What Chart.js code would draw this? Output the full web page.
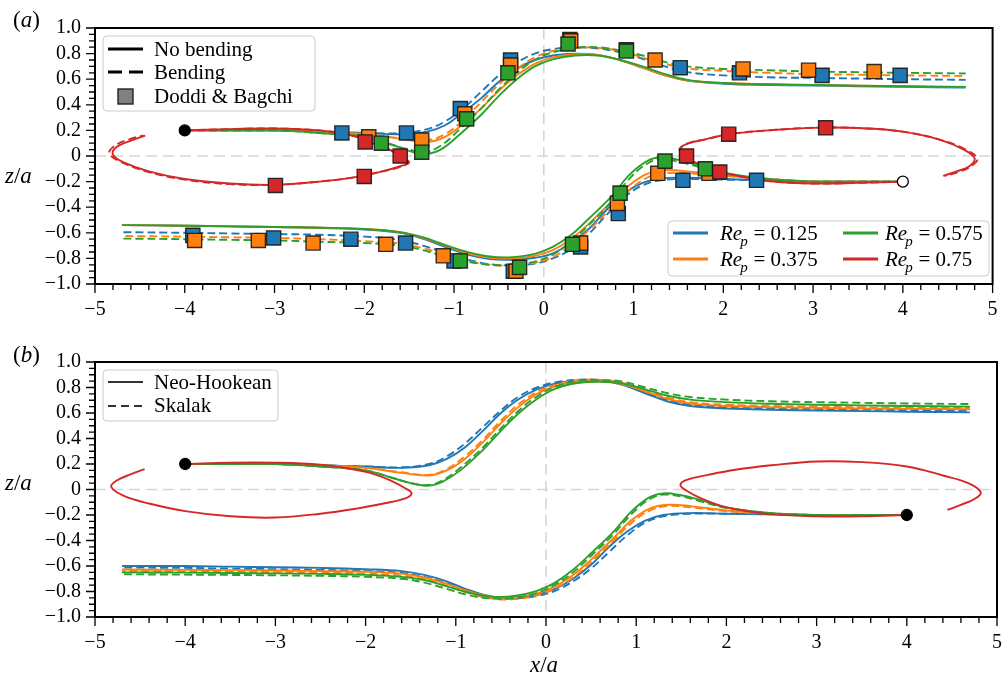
<!DOCTYPE html>
<html>
<head>
<meta charset="utf-8">
<script src="https://cdn.jsdelivr.net/npm/chart.js@4.4.0/dist/chart.umd.min.js"></script>
<style>
  body { margin: 0; background: #fff; }
  canvas { position: absolute; left: 0; }
</style>
</head>
<body>
<canvas id="chartA" width="1004" height="330" style="top:0"></canvas>
<canvas id="chartB" width="1004" height="346" style="top:330px"></canvas>
<script>
// ---- data: [x/a, z/a] ----
// (a) track starting at (-4, 0.2), no bending / bending
const aUp125  = [[-4,0.2],[-3.5,0.2],[-3,0.2],[-2.5,0.19],[-2,0.18],[-1.6,0.17],[-1.3,0.19],[-1.1,0.24],[-0.9,0.34],[-0.7,0.45],[-0.5,0.58],[-0.3,0.68],[-0.1,0.75],[0.1,0.785],[0.35,0.8],[0.6,0.79],[0.85,0.75],[1.1,0.69],[1.35,0.63],[1.6,0.59],[2,0.565],[2.5,0.555],[3,0.55],[3.5,0.545],[4,0.54],[4.7,0.535]];
const aUpB125 = [[-4,0.2],[-3.5,0.2],[-3,0.2],[-2.5,0.19],[-2,0.18],[-1.6,0.18],[-1.3,0.21],[-1.1,0.27],[-0.9,0.37],[-0.7,0.5],[-0.5,0.63],[-0.3,0.73],[-0.1,0.8],[0.1,0.835],[0.35,0.848],[0.6,0.84],[0.85,0.81],[1.1,0.76],[1.35,0.7],[1.6,0.655],[2,0.63],[2.5,0.615],[3,0.61],[3.5,0.605],[4,0.6],[4.7,0.595]];
const aUp375  = [[-4,0.2],[-3.5,0.2],[-3,0.2],[-2.5,0.19],[-2,0.17],[-1.6,0.135],[-1.3,0.11],[-1.1,0.15],[-0.9,0.25],[-0.7,0.37],[-0.5,0.51],[-0.3,0.63],[-0.1,0.72],[0.1,0.77],[0.35,0.795],[0.6,0.79],[0.85,0.75],[1.1,0.69],[1.35,0.63],[1.6,0.59],[2,0.57],[2.5,0.56],[3,0.555],[3.5,0.55],[4,0.545],[4.7,0.54]];
const aUpB375 = [[-4,0.2],[-3.5,0.2],[-3,0.2],[-2.5,0.19],[-2,0.17],[-1.6,0.14],[-1.3,0.125],[-1.1,0.17],[-0.9,0.28],[-0.7,0.42],[-0.5,0.56],[-0.3,0.68],[-0.1,0.77],[0.1,0.82],[0.35,0.845],[0.6,0.845],[0.85,0.82],[1.1,0.77],[1.35,0.72],[1.6,0.685],[2,0.665],[2.5,0.65],[3,0.64],[3.5,0.635],[4,0.63],[4.7,0.625]];
const aUp575  = [[-4,0.2],[-3.5,0.2],[-3,0.2],[-2.5,0.18],[-2,0.15],[-1.7,0.09],[-1.5,0.04],[-1.33,0.015],[-1.15,0.05],[-0.95,0.16],[-0.7,0.32],[-0.5,0.47],[-0.3,0.6],[-0.1,0.7],[0.1,0.755],[0.35,0.785],[0.6,0.785],[0.85,0.75],[1.1,0.7],[1.35,0.64],[1.6,0.595],[2,0.57],[2.5,0.56],[3,0.555],[3.5,0.55],[4,0.545],[4.7,0.54]];
const aUpB575 = [[-4,0.2],[-3.5,0.2],[-3,0.2],[-2.5,0.18],[-2,0.15],[-1.7,0.09],[-1.5,0.05],[-1.33,0.03],[-1.15,0.08],[-0.95,0.2],[-0.7,0.37],[-0.5,0.52],[-0.3,0.65],[-0.1,0.75],[0.1,0.81],[0.35,0.845],[0.6,0.85],[0.85,0.825],[1.1,0.785],[1.35,0.735],[1.6,0.7],[2,0.68],[2.5,0.67],[3,0.66],[3.5,0.655],[4,0.65],[4.7,0.645]];
// (a) track starting at (4, -0.2)
const aLow125  = [[4,-0.2],[3.5,-0.2],[3,-0.2],[2.5,-0.19],[2,-0.18],[1.6,-0.17],[1.3,-0.175],[1.1,-0.21],[0.9,-0.29],[0.7,-0.42],[0.5,-0.57],[0.3,-0.68],[0.1,-0.76],[-0.1,-0.795],[-0.35,-0.81],[-0.6,-0.805],[-0.85,-0.77],[-1.1,-0.71],[-1.35,-0.645],[-1.6,-0.6],[-2,-0.575],[-2.5,-0.56],[-3,-0.555],[-3.5,-0.55],[-4,-0.545],[-4.7,-0.54]];
const aLowB125 = [[4,-0.2],[3.5,-0.2],[3,-0.2],[2.5,-0.19],[2,-0.185],[1.6,-0.18],[1.3,-0.19],[1.1,-0.23],[0.9,-0.32],[0.7,-0.46],[0.5,-0.61],[0.3,-0.73],[0.1,-0.8],[-0.1,-0.84],[-0.35,-0.855],[-0.6,-0.845],[-0.85,-0.81],[-1.1,-0.755],[-1.35,-0.7],[-1.6,-0.655],[-2,-0.63],[-2.5,-0.615],[-3,-0.61],[-3.5,-0.605],[-4,-0.6],[-4.7,-0.595]];
const aLow375  = [[4,-0.2],[3.5,-0.2],[3,-0.2],[2.5,-0.18],[2,-0.15],[1.6,-0.12],[1.35,-0.11],[1.15,-0.14],[0.95,-0.23],[0.75,-0.36],[0.5,-0.53],[0.3,-0.65],[0.1,-0.735],[-0.1,-0.78],[-0.35,-0.8],[-0.6,-0.795],[-0.85,-0.76],[-1.1,-0.7],[-1.35,-0.64],[-1.6,-0.595],[-2,-0.57],[-2.5,-0.56],[-3,-0.555],[-3.5,-0.55],[-4,-0.545],[-4.7,-0.54]];
const aLowB375 = [[4,-0.2],[3.5,-0.2],[3,-0.2],[2.5,-0.18],[2,-0.155],[1.6,-0.135],[1.35,-0.135],[1.15,-0.17],[0.95,-0.27],[0.75,-0.41],[0.5,-0.58],[0.3,-0.7],[0.1,-0.79],[-0.1,-0.835],[-0.35,-0.855],[-0.6,-0.85],[-0.85,-0.82],[-1.1,-0.77],[-1.35,-0.72],[-1.6,-0.685],[-2,-0.665],[-2.5,-0.65],[-3,-0.64],[-3.5,-0.635],[-4,-0.63],[-4.7,-0.625]];
const aLow575  = [[4,-0.2],[3.5,-0.2],[3,-0.2],[2.5,-0.18],[2,-0.13],[1.7,-0.07],[1.5,-0.03],[1.3,-0.01],[1.15,-0.04],[0.95,-0.15],[0.75,-0.32],[0.5,-0.49],[0.3,-0.62],[0.1,-0.71],[-0.1,-0.765],[-0.35,-0.79],[-0.6,-0.785],[-0.85,-0.75],[-1.1,-0.695],[-1.35,-0.635],[-1.6,-0.595],[-2,-0.57],[-2.5,-0.56],[-3,-0.555],[-3.5,-0.55],[-4,-0.545],[-4.7,-0.54]];
const aLowB575 = [[4,-0.2],[3.5,-0.2],[3,-0.2],[2.5,-0.18],[2,-0.135],[1.7,-0.08],[1.5,-0.045],[1.3,-0.025],[1.15,-0.06],[0.95,-0.18],[0.75,-0.36],[0.5,-0.54],[0.3,-0.67],[0.1,-0.77],[-0.1,-0.825],[-0.35,-0.85],[-0.6,-0.85],[-0.85,-0.825],[-1.1,-0.785],[-1.35,-0.735],[-1.6,-0.7],[-2,-0.68],[-2.5,-0.67],[-3,-0.66],[-3.5,-0.655],[-4,-0.65],[-4.7,-0.645]];
// (a) Re_p = 0.75 loops
const aLoopL  = [[-4,0.2],[-3.5,0.21],[-3,0.215],[-2.5,0.2],[-2.2,0.17],[-1.95,0.12],[-1.72,0.05],[-1.57,-0.01],[-1.5,-0.05],[-1.6,-0.08],[-1.8,-0.12],[-2.1,-0.165],[-2.5,-0.2],[-3,-0.225],[-3.5,-0.215],[-4,-0.18],[-4.4,-0.12],[-4.68,-0.05],[-4.8,0.01],[-4.76,0.07],[-4.6,0.12],[-4.44,0.16]];
const aLoopLB = [[-4,0.2],[-3.5,0.21],[-3,0.215],[-2.5,0.2],[-2.2,0.17],[-1.95,0.12],[-1.72,0.05],[-1.57,-0.01],[-1.51,-0.05],[-1.6,-0.085],[-1.8,-0.12],[-2.1,-0.165],[-2.5,-0.2],[-3,-0.225],[-3.5,-0.22],[-4,-0.185],[-4.4,-0.125],[-4.7,-0.05],[-4.84,0.02],[-4.78,0.08],[-4.62,0.13],[-4.46,0.16]];
const aLoopR  = [[4,-0.2],[3.5,-0.21],[3,-0.215],[2.5,-0.195],[2.2,-0.16],[1.95,-0.12],[1.75,-0.07],[1.6,-0.02],[1.52,0.03],[1.53,0.07],[1.62,0.1],[1.8,0.13],[2.06,0.17],[2.5,0.2],[3.1,0.222],[3.6,0.215],[4,0.19],[4.4,0.13],[4.68,0.05],[4.8,-0.02],[4.74,-0.08],[4.6,-0.12],[4.45,-0.155]];
const aLoopRB = [[4,-0.2],[3.5,-0.21],[3,-0.215],[2.5,-0.195],[2.2,-0.16],[1.95,-0.12],[1.75,-0.07],[1.6,-0.02],[1.52,0.03],[1.54,0.075],[1.63,0.105],[1.8,0.13],[2.06,0.17],[2.5,0.2],[3.1,0.222],[3.6,0.215],[4,0.19],[4.4,0.13],[4.7,0.05],[4.83,-0.02],[4.76,-0.08],[4.62,-0.125],[4.47,-0.155]];
// (a) Doddi & Bagchi
const dbBlue   = [[-2.25,0.18],[-1.53,0.18],[-0.93,0.37],[-0.37,0.75],[0.29,0.91],[0.92,0.83],[1.52,0.69],[2.18,0.65],[3.1,0.63],[3.97,0.63],[-3.91,-0.62],[-3.01,-0.64],[-2.15,-0.65],[-1.54,-0.68],[-1.0,-0.82],[-0.34,-0.9],[0.41,-0.71],[0.83,-0.45],[1.55,-0.19],[2.37,-0.19]];
const dbOrange = [[-1.95,0.15],[-1.36,0.125],[-0.88,0.33],[-0.37,0.71],[0.3,0.9],[1.24,0.75],[2.22,0.68],[2.95,0.67],[3.68,0.66],[-3.89,-0.66],[-3.18,-0.66],[-2.57,-0.68],[-1.76,-0.69],[-1.12,-0.78],[-0.31,-0.9],[0.41,-0.68],[0.82,-0.37],[1.27,-0.135],[1.84,-0.135]];
const dbGreen  = [[-1.81,0.1],[-1.36,0.03],[-0.86,0.29],[-0.4,0.65],[0.27,0.875],[0.92,0.82],[-0.93,-0.82],[-0.27,-0.87],[0.32,-0.69],[0.85,-0.29],[1.35,-0.04],[1.8,-0.1]];
const dbRed    = [[-1.99,0.11],[-1.6,0.0],[-2.0,-0.16],[-2.99,-0.23],[1.59,0.0],[1.96,-0.125],[2.06,0.17],[3.14,0.22]];
const aStart = [[-4,0.2]];
const aEnd   = [[4,-0.2]];

// (b) Neo-Hookean / Skalak
const bUp125  = [[-4,0.2],[-3.5,0.2],[-3,0.2],[-2.5,0.19],[-2,0.18],[-1.6,0.17],[-1.3,0.19],[-1.1,0.24],[-0.9,0.33],[-0.7,0.46],[-0.5,0.6],[-0.3,0.71],[-0.1,0.785],[0.1,0.83],[0.35,0.855],[0.6,0.855],[0.85,0.82],[1.1,0.755],[1.35,0.69],[1.6,0.655],[2,0.635],[2.5,0.625],[3,0.62],[3.5,0.615],[4,0.61],[4.7,0.605]];
const bUpS125 = [[-4,0.2],[-3.5,0.2],[-3,0.2],[-2.5,0.19],[-2,0.18],[-1.6,0.175],[-1.3,0.2],[-1.1,0.26],[-0.9,0.36],[-0.7,0.49],[-0.5,0.62],[-0.3,0.73],[-0.1,0.8],[0.1,0.84],[0.35,0.86],[0.6,0.858],[0.85,0.822],[1.1,0.76],[1.35,0.7],[1.6,0.665],[2,0.647],[2.5,0.637],[3,0.632],[3.5,0.627],[4,0.622],[4.7,0.617]];
const bUp375  = [[-4,0.2],[-3.5,0.2],[-3,0.2],[-2.5,0.19],[-2,0.17],[-1.6,0.13],[-1.3,0.11],[-1.1,0.15],[-0.9,0.24],[-0.7,0.37],[-0.5,0.52],[-0.3,0.65],[-0.1,0.75],[0.1,0.81],[0.35,0.845],[0.6,0.85],[0.85,0.825],[1.1,0.77],[1.35,0.71],[1.6,0.675],[2,0.655],[2.5,0.645],[3,0.64],[3.5,0.635],[4,0.632],[4.7,0.63]];
const bUpS375 = [[-4,0.2],[-3.5,0.2],[-3,0.2],[-2.5,0.19],[-2,0.17],[-1.6,0.135],[-1.3,0.115],[-1.1,0.16],[-0.9,0.26],[-0.7,0.39],[-0.5,0.54],[-0.3,0.67],[-0.1,0.765],[0.1,0.82],[0.35,0.855],[0.6,0.86],[0.85,0.835],[1.1,0.78],[1.35,0.72],[1.6,0.685],[2,0.665],[2.5,0.655],[3,0.65],[3.5,0.645],[4,0.642],[4.7,0.64]];
const bUp575  = [[-4,0.2],[-3.5,0.2],[-3,0.2],[-2.5,0.18],[-2,0.15],[-1.7,0.09],[-1.5,0.05],[-1.3,0.03],[-1.15,0.06],[-0.95,0.15],[-0.7,0.31],[-0.5,0.46],[-0.3,0.6],[-0.1,0.71],[0.1,0.79],[0.35,0.835],[0.6,0.845],[0.85,0.83],[1.1,0.785],[1.35,0.735],[1.6,0.705],[2,0.685],[2.5,0.672],[3,0.665],[3.5,0.66],[4,0.655],[4.7,0.65]];
const bUpS575 = [[-4,0.2],[-3.5,0.2],[-3,0.2],[-2.5,0.18],[-2,0.15],[-1.7,0.09],[-1.5,0.05],[-1.3,0.035],[-1.15,0.07],[-0.95,0.17],[-0.7,0.33],[-0.5,0.48],[-0.3,0.62],[-0.1,0.73],[0.1,0.805],[0.35,0.85],[0.6,0.86],[0.85,0.845],[1.1,0.8],[1.35,0.755],[1.6,0.725],[2,0.705],[2.5,0.692],[3,0.685],[3.5,0.68],[4,0.675],[4.7,0.67]];
const bLow125  = [[4,-0.2],[3.5,-0.2],[3,-0.2],[2.5,-0.195],[2,-0.19],[1.6,-0.185],[1.3,-0.2],[1.1,-0.245],[0.9,-0.33],[0.7,-0.45],[0.5,-0.59],[0.3,-0.7],[0.1,-0.78],[-0.1,-0.825],[-0.35,-0.85],[-0.6,-0.84],[-0.85,-0.79],[-1.1,-0.72],[-1.35,-0.67],[-1.6,-0.64],[-2,-0.625],[-2.5,-0.615],[-3,-0.61],[-3.5,-0.605],[-4,-0.6],[-4.7,-0.6]];
const bLowS125 = [[4,-0.2],[3.5,-0.2],[3,-0.2],[2.5,-0.195],[2,-0.19],[1.6,-0.19],[1.3,-0.21],[1.1,-0.26],[0.9,-0.36],[0.7,-0.49],[0.5,-0.62],[0.3,-0.72],[0.1,-0.795],[-0.1,-0.835],[-0.35,-0.855],[-0.6,-0.845],[-0.85,-0.8],[-1.1,-0.735],[-1.35,-0.685],[-1.6,-0.655],[-2,-0.64],[-2.5,-0.63],[-3,-0.625],[-3.5,-0.62],[-4,-0.615],[-4.7,-0.612]];
const bLow375  = [[4,-0.2],[3.5,-0.2],[3,-0.2],[2.5,-0.19],[2,-0.165],[1.6,-0.13],[1.35,-0.12],[1.15,-0.15],[0.95,-0.24],[0.75,-0.38],[0.5,-0.55],[0.3,-0.67],[0.1,-0.76],[-0.1,-0.815],[-0.35,-0.845],[-0.6,-0.84],[-0.85,-0.8],[-1.1,-0.74],[-1.35,-0.69],[-1.6,-0.66],[-2,-0.645],[-2.5,-0.64],[-3,-0.635],[-3.5,-0.632],[-4,-0.63],[-4.7,-0.628]];
const bLowS375 = [[4,-0.2],[3.5,-0.2],[3,-0.2],[2.5,-0.19],[2,-0.17],[1.6,-0.14],[1.35,-0.13],[1.15,-0.165],[0.95,-0.26],[0.75,-0.4],[0.5,-0.57],[0.3,-0.69],[0.1,-0.775],[-0.1,-0.83],[-0.35,-0.86],[-0.6,-0.855],[-0.85,-0.815],[-1.1,-0.755],[-1.35,-0.705],[-1.6,-0.675],[-2,-0.66],[-2.5,-0.652],[-3,-0.648],[-3.5,-0.645],[-4,-0.642],[-4.7,-0.64]];
const bLow575  = [[4,-0.2],[3.5,-0.2],[3,-0.2],[2.5,-0.185],[2,-0.14],[1.7,-0.08],[1.5,-0.045],[1.3,-0.03],[1.15,-0.06],[0.95,-0.17],[0.75,-0.33],[0.5,-0.5],[0.3,-0.63],[0.1,-0.73],[-0.1,-0.795],[-0.35,-0.835],[-0.6,-0.84],[-0.85,-0.81],[-1.1,-0.76],[-1.35,-0.71],[-1.6,-0.685],[-2,-0.67],[-2.5,-0.662],[-3,-0.658],[-3.5,-0.655],[-4,-0.652],[-4.7,-0.65]];
const bLowS575 = [[4,-0.2],[3.5,-0.2],[3,-0.2],[2.5,-0.185],[2,-0.145],[1.7,-0.09],[1.5,-0.055],[1.3,-0.04],[1.15,-0.075],[0.95,-0.19],[0.75,-0.35],[0.5,-0.52],[0.3,-0.65],[0.1,-0.745],[-0.1,-0.81],[-0.35,-0.85],[-0.6,-0.855],[-0.85,-0.83],[-1.1,-0.78],[-1.35,-0.73],[-1.6,-0.7],[-2,-0.685],[-2.5,-0.677],[-3,-0.673],[-3.5,-0.67],[-4,-0.668],[-4.7,-0.665]];
const bLoopL = [[-4,0.2],[-3.5,0.21],[-3,0.21],[-2.5,0.195],[-2.2,0.165],[-1.95,0.13],[-1.72,0.07],[-1.56,0.01],[-1.49,-0.03],[-1.56,-0.07],[-1.8,-0.11],[-2.1,-0.15],[-2.5,-0.19],[-3,-0.22],[-3.5,-0.21],[-4,-0.17],[-4.4,-0.11],[-4.68,-0.05],[-4.82,0.02],[-4.76,0.07],[-4.6,0.12],[-4.45,0.16]];
const bLoopR = [[4,-0.2],[3.5,-0.21],[3,-0.21],[2.5,-0.195],[2.2,-0.165],[1.95,-0.13],[1.72,-0.07],[1.56,-0.01],[1.49,0.035],[1.56,0.075],[1.8,0.115],[2.1,0.155],[2.5,0.19],[3,0.22],[3.5,0.215],[4,0.18],[4.4,0.11],[4.68,0.05],[4.82,-0.02],[4.76,-0.07],[4.6,-0.12],[4.45,-0.16]];
const bStarts = [[-4,0.2],[4,-0.2]];

const xTicks = [-5, -4, -3, -2, -1, 0, 1, 2, 3, 4, 5];
const reLabels = ['0.125', '0.375', '0.575', '0.75'];
const BLUE = '#1f77b4', ORANGE = '#ff7f0e', GREEN = '#2ca02c', RED = '#d62728';
const SERIF = "'Liberation Serif', 'DejaVu Serif', serif";

const xy = arr => arr.map(p => ({ x: p[0], y: p[1] }));

function line(data, color, dashed, order) {
  return { data: xy(data), showLine: true, borderColor: color, borderWidth: 1.9,
    borderDash: dashed ? [8, 4] : [], pointRadius: 0, tension: 0.4, fill: false, order: order };
}
function marks(data, color, order) {
  return { data: xy(data), showLine: false, pointStyle: 'rect', pointRadius: 10,
    backgroundColor: color, borderColor: 'rgba(25,25,25,0.9)', borderWidth: 1.4, order: order };
}
function dots(data, fill, order) {
  return { data: xy(data), showLine: false, pointStyle: 'circle', pointRadius: 5.5,
    backgroundColor: fill, borderColor: '#000', borderWidth: 1.3, order: order };
}

function fmtY(v) {
  if (Math.abs(v) < 1e-9) return '0';
  return (v < 0 ? '\u2212' : '') + Math.abs(v).toFixed(1);
}
function fmtX(v) {
  return (v < 0 ? '\u2212' : '') + Math.abs(v);
}

function scales(xHeight) {
  return {
    x: { type: 'linear', min: -5, max: 5,
      grid: { display: false, drawTicks: false }, border: { display: false },
      ticks: { display: false },
      afterFit: s => { s.height = xHeight; } },
    y: { type: 'linear', min: -1, max: 1,
      grid: { display: false, drawTicks: false }, border: { display: false },
      ticks: { stepSize: 0.2, padding: 14, color: '#000', autoSkip: false,
        font: { family: SERIF, size: 20 }, callback: fmtY },
      afterFit: s => { s.width = 95; } }
  };
}

// small text helpers
function put(ctx, s, x, y, size, italic) {
  ctx.font = (italic ? 'italic ' : '') + size + 'px ' + SERIF;
  ctx.fillText(s, x, y);
  return x + ctx.measureText(s).width;
}
function box(ctx, x0, y0, x1, y1) {
  ctx.save();
  ctx.beginPath();
  ctx.roundRect(x0, y0, x1 - x0, y1 - y0, 4);
  ctx.fillStyle = 'rgba(255,255,255,0.8)';
  ctx.fill();
  ctx.strokeStyle = '#cccccc';
  ctx.lineWidth = 1;
  ctx.stroke();
  ctx.restore();
}
function sample(ctx, x0, x1, y, color, width, dash) {
  ctx.save();
  ctx.strokeStyle = color; ctx.lineWidth = width; ctx.setLineDash(dash || []);
  ctx.beginPath(); ctx.moveTo(x0, y); ctx.lineTo(x1, y); ctx.stroke();
  ctx.restore();
}
function reText(ctx, x, y, val) {
  let cx = put(ctx, 'Re', x, y, 21, true);
  put(ctx, 'p', cx - 2, y + 6, 15, true);
  put(ctx, ' = ' + val, cx + 6, y, 21, false);
}

const decor = {
  id: 'decor',
  beforeDatasetsDraw(chart) {
    const { ctx, chartArea: a, scales: { x, y } } = chart;
    const x0 = x.getPixelForValue(0), y0 = y.getPixelForValue(0);
    ctx.save();
    ctx.strokeStyle = '#d6d6d6'; ctx.lineWidth = 1.6; ctx.setLineDash([11, 6]);
    ctx.beginPath();
    ctx.moveTo(a.left, y0); ctx.lineTo(a.right, y0);
    ctx.moveTo(x0, a.top); ctx.lineTo(x0, a.bottom);
    ctx.stroke();
    ctx.restore();
  },
  afterDraw(chart, args, opts) {
    const { ctx, chartArea: a, scales: { x, y } } = chart;
    ctx.save();
    // frame
    ctx.strokeStyle = '#000'; ctx.lineWidth = 2;
    ctx.strokeRect(a.left, a.top, a.right - a.left, a.bottom - a.top);
    // outward ticks, minor and major
    ctx.lineWidth = 1.3;
    ctx.beginPath();
    for (let i = 0; i <= 50; i++) {
      const px = x.getPixelForValue(-5 + i * 0.2);
      const len = i % 5 === 0 ? 9 : 6;
      ctx.moveTo(px, a.bottom); ctx.lineTo(px, a.bottom + len);
    }
    for (let i = 0; i <= 40; i++) {
      const py = y.getPixelForValue(-1 + i * 0.05);
      const len = i % 4 === 0 ? 9 : 6;
      ctx.moveTo(a.left, py); ctx.lineTo(a.left - len, py);
    }
    ctx.stroke();

    // x tick labels
    ctx.fillStyle = '#000';
    ctx.textBaseline = 'alphabetic';
    ctx.textAlign = 'center';
    ctx.font = '20px ' + SERIF;
    xTicks.forEach(v => ctx.fillText(fmtX(v), x.getPixelForValue(v), a.bottom + 31));
    ctx.textAlign = 'left';

    if (opts.panel === 'a') {
      let cx = put(ctx, '(', 13, 27, 23, false);
      cx = put(ctx, 'a', cx, 27, 23, true);
      put(ctx, ')', cx, 27, 23, false);
      cx = put(ctx, 'z', 5, 183, 23, true);
      cx = put(ctx, '/', cx, 183, 23, false);
      put(ctx, 'a', cx, 183, 23, true);

      box(ctx, 103, 36, 315, 111);
      ctx.fillStyle = '#000';
      sample(ctx, 108, 143, 49, '#000', 3);
      put(ctx, 'No bending', 154, 56, 21, false);
      sample(ctx, 108, 143, 72, '#000', 3, [14, 7]);
      put(ctx, 'Bending', 154, 79, 21, false);
      ctx.save();
      ctx.fillStyle = '#808080'; ctx.strokeStyle = '#222'; ctx.lineWidth = 1.4;
      ctx.fillRect(118, 89, 15, 15); ctx.strokeRect(118, 89, 15, 15);
      ctx.restore();
      put(ctx, 'Doddi & Bagchi', 154, 103, 21, false);

      box(ctx, 668, 221, 989, 276);
      ctx.fillStyle = '#000';
      sample(ctx, 673, 708, 233, BLUE, 3);
      reText(ctx, 720, 240, reLabels[0]);
      sample(ctx, 673, 708, 259, ORANGE, 3);
      reText(ctx, 720, 266, reLabels[1]);
      sample(ctx, 843, 878, 233, GREEN, 3);
      reText(ctx, 885, 240, reLabels[2]);
      sample(ctx, 843, 878, 259, RED, 3);
      reText(ctx, 885, 266, reLabels[3]);
    } else {
      let cx = put(ctx, '(', 13, 32, 23, false);
      cx = put(ctx, 'b', cx, 32, 23, true);
      put(ctx, ')', cx, 32, 23, false);
      cx = put(ctx, 'z', 5, 160, 23, true);
      cx = put(ctx, '/', cx, 160, 23, false);
      put(ctx, 'a', cx, 160, 23, true);
      cx = put(ctx, 'x', 530, 342, 23, true);
      cx = put(ctx, '/', cx, 342, 23, false);
      put(ctx, 'a', cx, 342, 23, true);

      box(ctx, 103, 40, 278, 91);
      ctx.fillStyle = '#000';
      sample(ctx, 108, 143, 52, '#333', 2);
      put(ctx, 'Neo-Hookean', 154, 59, 21, false);
      sample(ctx, 108, 143, 76, '#333', 2, [8, 5]);
      put(ctx, 'Skalak', 154, 82, 21, false);
    }
    ctx.restore();
  }
};

function baseOptions(panel, xHeight, padTop) {
  return {
    responsive: false, animation: false, devicePixelRatio: 1, events: [],
    layout: { padding: { top: padTop, right: 7, left: 0, bottom: 0 } },
    plugins: { legend: { display: false }, tooltip: { enabled: false }, decor: { panel: panel } },
    scales: scales(xHeight)
  };
}

new Chart(document.getElementById('chartA'), {
  type: 'scatter',
  data: { datasets: [
    dots(aStart, '#000', 0), dots(aEnd, '#fff', 0),
    marks(dbRed, RED, 1), marks(dbGreen, GREEN, 2), marks(dbOrange, ORANGE, 3), marks(dbBlue, BLUE, 4),
    line(aLoopL, RED, false, 5), line(aLoopLB, RED, true, 5),
    line(aLoopR, RED, false, 5), line(aLoopRB, RED, true, 5),
    line(aUp575, GREEN, false, 6), line(aUpB575, GREEN, true, 6),
    line(aLow575, GREEN, false, 6), line(aLowB575, GREEN, true, 6),
    line(aUp375, ORANGE, false, 7), line(aUpB375, ORANGE, true, 7),
    line(aLow375, ORANGE, false, 7), line(aLowB375, ORANGE, true, 7),
    line(aUp125, BLUE, false, 8), line(aUpB125, BLUE, true, 8),
    line(aLow125, BLUE, false, 8), line(aLowB125, BLUE, true, 8)
  ] },
  options: baseOptions('a', 46, 28),
  plugins: [decor]
});

new Chart(document.getElementById('chartB'), {
  type: 'scatter',
  data: { datasets: [
    dots(bStarts, '#000', 0),
    line(bLoopL, RED, false, 5), line(bLoopR, RED, false, 5),
    line(bUp575, GREEN, false, 6), line(bUpS575, GREEN, true, 6),
    line(bLow575, GREEN, false, 6), line(bLowS575, GREEN, true, 6),
    line(bUp375, ORANGE, false, 7), line(bUpS375, ORANGE, true, 7),
    line(bLow375, ORANGE, false, 7), line(bLowS375, ORANGE, true, 7),
    line(bUp125, BLUE, false, 8), line(bUpS125, BLUE, true, 8),
    line(bLow125, BLUE, false, 8), line(bLowS125, BLUE, true, 8)
  ] },
  options: baseOptions('b', 59, 32),
  plugins: [decor]
});
</script>
</body>
</html>
